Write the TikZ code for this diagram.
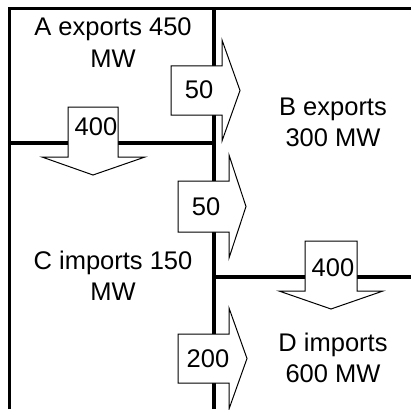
\documentclass[tikz,border=0pt]{standalone}
\usepackage{fontspec}
\setmainfont{Liberation Sans}
\begin{document}
\begin{tikzpicture}[x=1pt,y=-1pt,
  border/.style={line width=3.5pt},
  flowarrow/.style={draw=black,fill=white,line width=1pt,line join=miter},
  lbl/.style={font=\fontsize{25.5}{31}\selectfont,align=center,anchor=base,inner sep=0pt},
  num/.style={font=\fontsize{25.5}{31}\selectfont,anchor=base,inner sep=0pt}]
\useasboundingbox[fill=white] (0,0) rectangle (411,409);
% region boundaries
\coordinate (tl) at (9.5,8.5);
\coordinate (tr) at (411,8.5);
\coordinate (bl) at (9.5,409);
\coordinate (mt) at (214,8.5);
\coordinate (mb) at (214,409);
\coordinate (ml) at (9.5,143);
\coordinate (mm) at (214,143);
\coordinate (rm) at (214,277);
\coordinate (rr) at (411,277);
\draw[border] (bl) -- (tl) -- (tr);
\draw[border] (mt) -- (mb);
\draw[border] (ml) -- (mm);
\draw[border] (rm) -- (rr);
% arrows
\draw[flowarrow] (171,66) -- (222,66) -- (222,40) -- (240,90.5) -- (222,141) -- (222,115) -- (171,115) -- cycle;
\draw[flowarrow] (178,181) -- (229,181) -- (229,155) -- (246,206.5) -- (229,258) -- (229,232) -- (178,232) -- cycle;
\draw[flowarrow] (178,334) -- (229,334) -- (229,308) -- (247,358.5) -- (229,409) -- (229,383) -- (178,383) -- cycle;
\draw[flowarrow] (68,107) -- (118,107) -- (118,157) -- (145,157) -- (93,175) -- (42,157) -- (68,157) -- cycle;
\draw[flowarrow] (305,241) -- (357,241) -- (357,291) -- (383,291) -- (331,309) -- (279,291) -- (305,291) -- cycle;
% numbers
\node[num] (nab) at (199,99) {50};
\node[num] (ncb) at (206,215) {50};
\node[num] (ncd) at (208,367) {200};
\node[num] (nac) at (96,135) {400};
\node[num] (nbd) at (333,276) {400};
% region labels
\node[lbl] (A) at (113,67) {A exports 450\\MW};
\node[lbl] (B) at (333,146) {B exports\\300 MW};
\node[lbl] (C) at (113,300) {C imports 150\\MW};
\node[lbl] (D) at (333,382) {D imports\\600 MW};
\end{tikzpicture}
\end{document}
